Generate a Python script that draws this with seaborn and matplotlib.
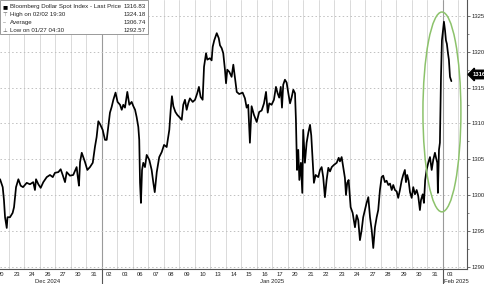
import matplotlib
matplotlib.use("Agg")
import matplotlib.pyplot as plt
import matplotlib.transforms as mtrans
from matplotlib.patches import Ellipse, Rectangle
import seaborn as sns
import pandas as pd
import numpy as np

# ---------------- data ----------------
# session position in trading-day units (0 = Dec 20, 29 = Feb 03)
t = [-0.06, 0.11, 0.19, 0.26, 0.37, 0.42, 0.58, 0.75, 0.84, 0.97, 1.12, 1.27, 1.42, 1.66, 1.87,
     2.08, 2.19, 2.26, 2.41, 2.56, 2.73, 2.95, 3.16, 3.34, 3.48, 3.70, 3.85, 3.98, 4.13, 4.24,
     4.45, 4.66, 4.88, 4.95, 5.03, 5.10, 5.21, 5.31, 5.42, 5.57, 5.74, 5.92, 6.06, 6.17, 6.28,
     6.39, 6.56, 6.71, 6.82, 6.92, 7.03, 7.14, 7.25, 7.39, 7.52,
     7.68, 7.79, 7.89, 8.00, 8.15, 8.28, 8.43, 8.54, 8.65, 8.75, 8.86, 8.92, 8.97, 9.03, 9.10,
     9.18, 9.29, 9.40, 9.57, 9.72, 9.83, 9.92, 10.05, 10.21, 10.37, 10.52, 10.69, 10.86, 10.95,
     11.03, 11.12, 11.25, 11.37, 11.50, 11.66, 11.76, 11.87, 11.98, 12.08, 12.19, 12.37, 12.52,
     12.66, 12.77, 12.88, 13.01, 13.10, 13.23, 13.31, 13.48, 13.59, 13.66, 13.76, 13.92, 14.05,
     14.13, 14.24, 14.34, 14.45, 14.52, 14.60, 14.73, 14.88, 14.99, 15.10, 15.21, 15.37,
     15.59, 15.74, 15.85, 15.95, 16.06, 16.17, 16.32, 16.50, 16.66, 16.82, 16.97, 17.10, 17.21,
     17.31, 17.46, 17.61, 17.74, 17.85, 17.95, 18.05, 18.13, 18.21, 18.32, 18.43, 18.54, 18.65,
     18.75, 18.86, 18.97, 19.03, 19.10, 19.18, 19.25, 19.35, 19.44, 19.50, 19.61, 19.72, 19.83,
     19.94, 20.02, 20.11, 20.19, 20.30, 20.47, 20.58, 20.69, 20.79, 20.90, 21.01, 21.12, 21.23,
     21.34, 21.48, 21.66, 21.79, 21.87, 21.98, 22.08, 22.19, 22.26, 22.34, 22.43, 22.56, 22.69,
     22.84, 22.95, 23.05, 23.16, 23.27, 23.37, 23.48, 23.59, 23.70, 23.81, 23.92, 24.02, 24.13,
     24.24, 24.34, 24.45, 24.56, 24.66, 24.77, 24.88, 24.99, 25.10, 25.21, 25.31, 25.42, 25.53,
     25.63, 25.74, 25.85, 25.95, 26.06, 26.13, 26.21, 26.30, 26.39, 26.50, 26.60, 26.71, 26.82,
     26.92, 27.03, 27.10, 27.21, 27.29, 27.37, 27.46, 27.57, 27.68, 27.79, 27.89, 28.00, 28.06,
     28.15, 28.19, 28.26, 28.32, 28.39, 28.45, 28.52, 28.58, 28.65, 28.71, 28.77, 28.84, 28.90,
     28.97, 29.06]
price = [1302.2, 1301.1, 1299.3, 1296.9, 1295.4, 1296.9, 1296.9, 1297.5, 1298.3, 1301.1, 1302.2,
         1301.3, 1301.1, 1301.7, 1301.5, 1301.8, 1300.7, 1302.2, 1301.5, 1301.0, 1301.8, 1302.5,
         1302.8, 1302.5, 1303.1, 1303.2, 1303.6, 1302.8, 1301.8, 1303.2, 1302.7, 1302.8, 1303.9,
         1302.6, 1301.3, 1304.6, 1305.9, 1305.3, 1304.6, 1303.5, 1303.9, 1304.5, 1306.7, 1308.1,
         1310.3, 1309.9, 1309.1, 1307.7, 1307.7, 1309.5, 1311.5, 1312.3, 1313.3, 1314.3, 1313.0,
         1312.6, 1311.9, 1312.6, 1312.2, 1314.4, 1312.6, 1313.0, 1312.4, 1311.9, 1310.9, 1309.5,
         1307.7, 1301.7, 1298.9, 1303.5, 1304.5, 1303.9, 1305.6, 1304.9, 1303.5, 1301.7, 1300.4,
         1303.2, 1305.3, 1306.0, 1307.0, 1306.7, 1309.1, 1311.9, 1313.8, 1312.4, 1311.6, 1311.2,
         1310.9, 1310.5, 1312.6, 1313.3, 1311.9, 1312.8, 1313.5, 1313.0, 1313.3, 1314.2, 1315.1,
         1313.7, 1313.3, 1317.9, 1319.8, 1318.9, 1319.1, 1318.8, 1320.7, 1321.6, 1322.6, 1321.9,
         1320.9, 1320.5, 1319.8, 1317.5, 1315.6, 1317.5, 1317.2, 1316.5, 1318.2, 1316.3, 1314.4,
         1314.1,
         1314.3, 1313.5, 1312.2, 1312.6, 1307.3, 1312.4, 1311.2, 1310.2, 1311.6, 1311.8, 1312.8,
         1314.4, 1311.5, 1312.8, 1312.6, 1313.3, 1315.1, 1314.2, 1313.6, 1315.1, 1312.2, 1315.4,
         1316.1, 1315.7, 1314.2, 1312.8, 1313.6, 1314.7, 1314.2, 1310.5, 1303.5, 1306.3, 1302.1,
         1304.5, 1300.3, 1309.1, 1304.5, 1307.3, 1308.7, 1309.8, 1308.3, 1304.9, 1301.7, 1302.8,
         1302.5, 1303.5, 1303.9, 1302.5, 1299.7, 1302.1, 1303.8, 1303.3, 1303.9, 1304.2, 1304.5,
         1305.2, 1304.7, 1305.3, 1303.9, 1302.4, 1300.0, 1301.7, 1302.1, 1298.3, 1297.5,
         1295.5, 1297.2, 1296.5, 1293.7, 1295.1, 1296.9, 1297.9, 1298.9, 1299.7, 1296.9, 1295.1,
         1292.6, 1295.5, 1296.9, 1297.9, 1300.7, 1302.5, 1302.7, 1301.8, 1302.0, 1301.4, 1301.6,
         1300.7, 1301.4, 1300.7, 1300.5, 1299.6, 1300.7, 1302.0, 1302.8, 1303.5, 1301.8, 1302.8,
         1302.0, 1300.4, 1299.6, 1301.1, 1300.1, 1300.7, 1299.9, 1297.9, 1299.3, 1300.1, 1298.9,
         1302.1, 1303.5, 1304.5, 1305.3, 1303.5, 1304.9, 1305.9, 1305.3, 1304.5, 1300.3, 1306.3,
         1307.3, 1316.5, 1321.6, 1323.0, 1324.2, 1323.0, 1321.6, 1321.1, 1319.8, 1318.9, 1316.5,
         1315.9]

day_labels = ["20", "23", "24", "26", "27", "30", "31", "02", "03", "06", "07", "08", "09", "10",
              "13", "14", "15", "16", "17", "20", "21", "22", "23", "24", "27", "28", "29", "30",
              "31", "03"]
month_labels = ["Dec 2024", "Jan 2025", "Feb 2025"]
month_start = [0, 7, 29]          # first trading-day index of each month
y_ticks = [1290, 1295, 1300, 1305, 1310, 1315, 1320, 1325]

legend_names = ["Bloomberg Dollar Spot Index - Last Price", "High on 02/02 19:30",
                "Average", "Low on 01/27 04:30"]
legend_values = ["1316.83", "1324.18", "1306.74", "1292.57"]
last_price = 1316.83

# ---------------- plot ----------------
sns.set_style("white")
plt.rcParams["font.family"] = ["Liberation Sans", "DejaVu Sans"]
FS = 4.2
TXT = "#222222"

fig = plt.figure(figsize=(4.85, 2.84), dpi=100)
ax = fig.add_axes([0.0, 0.0528, 0.9623, 0.9472])

df = pd.DataFrame({"t": t, "price": price})
sns.lineplot(data=df, x="t", y="price", ax=ax, color="black", linewidth=1.25, sort=False)

ax.set_xlim(-0.065, 30.05)
ax.set_ylim(1289.67, 1327.23)

# grid
for k in range(len(day_labels)):
    b = k + 0.5
    sep = (k + 1) in month_start
    ax.axvline(b, color="#9a9a9a" if sep else "#dadada", lw=0.8 if sep else 0.7, zorder=0)
for yv in y_ticks:
    ax.axhline(yv, color="#c0c0c0", lw=0.7, ls=(0, (1.5, 2.5)), zorder=0)

# spines
for s in ["top", "left"]:
    ax.spines[s].set_visible(False)
for s in ["bottom", "right"]:
    ax.spines[s].set_color("#555555")
    ax.spines[s].set_linewidth(0.8)

# y axis on right
ax.yaxis.tick_right()
ax.set_yticks(y_ticks)
ax.set_yticklabels([str(v) for v in y_ticks])
ax.set_yticks([v + 2.5 for v in y_ticks[:-1]], minor=True)
ax.tick_params(axis="y", which="major", length=2.5, width=0.6, color="#555555",
               labelsize=FS, labelcolor=TXT, pad=1.0, left=False, right=True)
ax.tick_params(axis="y", which="minor", length=1.5, width=0.5, color="#555555", left=False, right=True)

# x axis
ax.set_xticks(range(len(day_labels)))
ax.set_xticklabels(day_labels)
ax.tick_params(axis="x", which="major", length=0, labelsize=FS, labelcolor=TXT, pad=2.2)
ax.set_xlabel("")
ax.set_ylabel("")

blend = mtrans.blended_transform_factory(ax.transData, ax.transAxes)
for m in month_start[1:]:
    ax.plot([m - 0.5, m - 0.5], [0, -0.06], transform=blend, color="#555555", lw=0.8, clip_on=False)
for name, m0, m1 in zip(month_labels, month_start, month_start[1:] + [None]):
    if m1 is None:
        ax.text(m0 - 0.4, -0.038, name, transform=blend, ha="left", va="top", fontsize=FS, color=TXT)
    else:
        ax.text((m0 + m1 - 1) / 2, -0.038, name, transform=blend, ha="center", va="top", fontsize=FS,
                color=TXT)

# green ellipse
ax.add_patch(Ellipse((28.45, 1311.6), 2.45, 27.9, fill=False, edgecolor="#8cc26b", lw=1.1, zorder=3))

# last price tag
tb = mtrans.blended_transform_factory(ax.transAxes, ax.transData)
ax.text(1.013, last_price, f"{int(last_price)}", transform=tb, ha="left", va="center", fontsize=FS,
        color="white", fontweight="bold",
        bbox=dict(boxstyle="larrow,pad=0.3", fc="black", ec="black"), clip_on=False)

# legend box
ax.add_patch(Rectangle((0.0, 0.872), 0.317, 0.128, transform=ax.transAxes, fc="white",
                       ec="#999999", lw=0.7, zorder=5))
markers = ["■", "⊤", "--", "⊥"]
for i, (mk, nm, vl) in enumerate(zip(markers, legend_names, legend_values)):
    yy = 0.975 - i * 0.0295
    ax.text(0.006, yy, mk, transform=ax.transAxes, fontsize=3.9, va="center", ha="left",
            color="black" if i == 0 else "#555555", zorder=6, family=["DejaVu Sans"])
    ax.text(0.022, yy, nm, transform=ax.transAxes, fontsize=4.4, va="center", ha="left",
            color=TXT, zorder=6)
    ax.text(0.312, yy, vl, transform=ax.transAxes, fontsize=4.4, va="center", ha="right",
            color=TXT, zorder=6)

fig.savefig("out.png", dpi=100)
